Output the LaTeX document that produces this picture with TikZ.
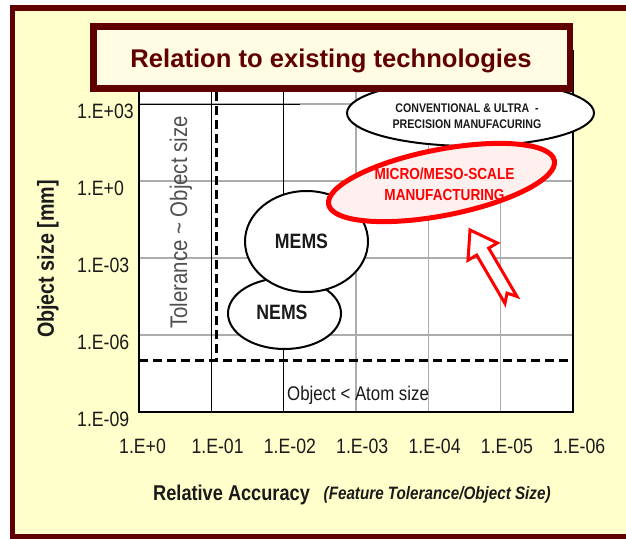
\documentclass[tikz,border=0pt]{standalone}
\usepackage{fontspec}
\setmainfont{Liberation Sans}
\newfontfamily\cnd{Liberation Sans}[FakeStretch=0.85]
\usetikzlibrary{shapes.geometric}
\definecolor{bgyel}{HTML}{FFFFCC}
\definecolor{maroonc}{HTML}{600000}
\definecolor{cream}{HTML}{FFFCE3}
\definecolor{pinkfill}{HTML}{FFF0F0}
\definecolor{txtgray}{HTML}{505050}
\definecolor{labblack}{HTML}{1A1A1A}
\begin{document}
\begin{tikzpicture}[x=1pt,y=-1pt,
  ticklab/.style={inner sep=0pt, text=labblack, font=\cnd\fontsize{20.8}{24}\selectfont},
  gridgray/.style={draw=gray!65, line width=1.1},
  gridblack/.style={draw=black, line width=0.9},
  dashthick/.style={draw=black, line width=3, dash pattern=on 8.5pt off 5.5pt},
  bubble/.style={ellipse, draw=black, line width=2, fill=white, inner sep=0pt},
  bubbletext/.style={inner sep=0pt, text=labblack, font=\cnd\bfseries\fontsize{20.8}{24}\selectfont},
]
\useasboundingbox (0,0) rectangle (626,538);
\fill[white] (0,0) rectangle (626,538);
% outer frame
\draw[maroonc, line width=5.5, fill=bgyel] (12.5,8) rectangle (660,536.5);
% plot area
\fill[white] (139,50) rectangle (573,412);
\foreach \i in {3,4,5} {
  \draw[gridgray] ({139+72.333*\i},50) -- ({139+72.333*\i},412);
}
\foreach \yy in {181,258,335} {
  \draw[gridgray] (139,\yy) -- (573,\yy);
}
\draw[gridgray] (139,104) -- (573,104);
\draw[gridblack] (139,104) -- (300,104);
\draw[gridblack] (211.33,50) -- (211.33,412);
\draw[gridblack] (283.67,50) -- (283.67,412);
\draw[black, line width=1.2] (139,50) -- (139,412) -- (573,412) -- (573,50);
% dashed limits
\coordinate (dvTop) at (216,92);
\coordinate (dvBot) at (216,360);
\coordinate (dhL) at (139,360);
\coordinate (dhR) at (573,360);
\draw[dashthick] (dvTop) -- (dvBot);
\draw[dashthick] (dhL) -- (dhR);
% y tick labels
\foreach \lab/\yy in {1.E+03/104,1.E+0/181,1.E-03/258,1.E-06/335,1.E-09/412} {
  \node[ticklab, anchor=base west] at (77,\yy+14) {\lab};
}
% x tick labels
\foreach \lab [count=\k from 0] in {1.E+0,1.E-01,1.E-02,1.E-03,1.E-04,1.E-05,1.E-06} {
  \node[ticklab, anchor=base west] at ({139+72.333*\k-20},453) {\lab};
}
% axis titles
\node[inner sep=0pt, anchor=base west, text=labblack, font=\cnd\bfseries\fontsize{21.4}{24}\selectfont] (xtitle) at (153,500) {Relative Accuracy};
\node[inner sep=0pt, anchor=base west, text=labblack, font=\cnd\bfseries\itshape\fontsize{17.9}{20}\selectfont] (xsub) at (323.5,499) {(Feature Tolerance/Object Size)};
\node[inner sep=0pt, rotate=90, text=labblack, font=\cnd\bfseries\fontsize{23.2}{26}\selectfont] (ytitle) at (48,259) {Object size [mm]};
% region labels
\node[inner sep=0pt, rotate=90, text=txtgray, font=\cnd\fontsize{24}{27}\selectfont] (tol) at (181,222.5) {Tolerance \textasciitilde{} Object size};
\node[inner sep=0pt, anchor=base west, text=labblack, font=\cnd\fontsize{19.8}{22}\selectfont] (atom) at (287,400) {Object < Atom size};
% bubbles
\node[bubble, minimum width=113, minimum height=71] (nems) at (284.5,313.5) {};
\node[bubbletext] (nemsT) at (282,312.5) {NEMS};
\node[bubble, minimum width=123, minimum height=101] (mems) at (306.5,241.5) {};
\node[bubbletext] (memsT) at (301.5,241.5) {MEMS};
\node[bubble, minimum width=247, minimum height=66] (conv) at (470.5,113) {};
\node[align=center, inner sep=0pt, text=labblack, font=\cnd\bfseries\fontsize{12.5}{16.5}\selectfont] (convT) at (467,116) {CONVENTIONAL \& ULTRA\ \ -\\PRECISION MANUFACURING};
\node[ellipse, draw=red, line width=5, fill=pinkfill, minimum width=230, minimum height=66, inner sep=0pt, rotate=11] (micro) at (441.5,182.5) {};
\node[align=center, inner sep=0pt, text=red, font=\cnd\bfseries\fontsize{16}{21}\selectfont] (microT) at (444.5,184.5) {MICRO/MESO-SCALE\\MANUFACTURING};
% block arrow
\draw[red, line width=3, fill=white, line join=miter]
  (470,230) -- (497.4,243) -- (488.7,248.1) -- (517,296.5) -- (507,293.1)
  -- (505,303.5) -- (476.7,255.1) -- (468,260.2) -- cycle;
% title box
\node[draw=maroonc, line width=6.5, fill=cream, minimum width=476.5, minimum height=62, inner sep=0pt] (titlebox) at (331.75,57.5) {};
\node[anchor=base, inner sep=0pt, text=maroonc, font=\bfseries\fontsize{25.6}{30}\selectfont] (title) at (331,67) {Relation to existing technologies};
\end{tikzpicture}
\end{document}
